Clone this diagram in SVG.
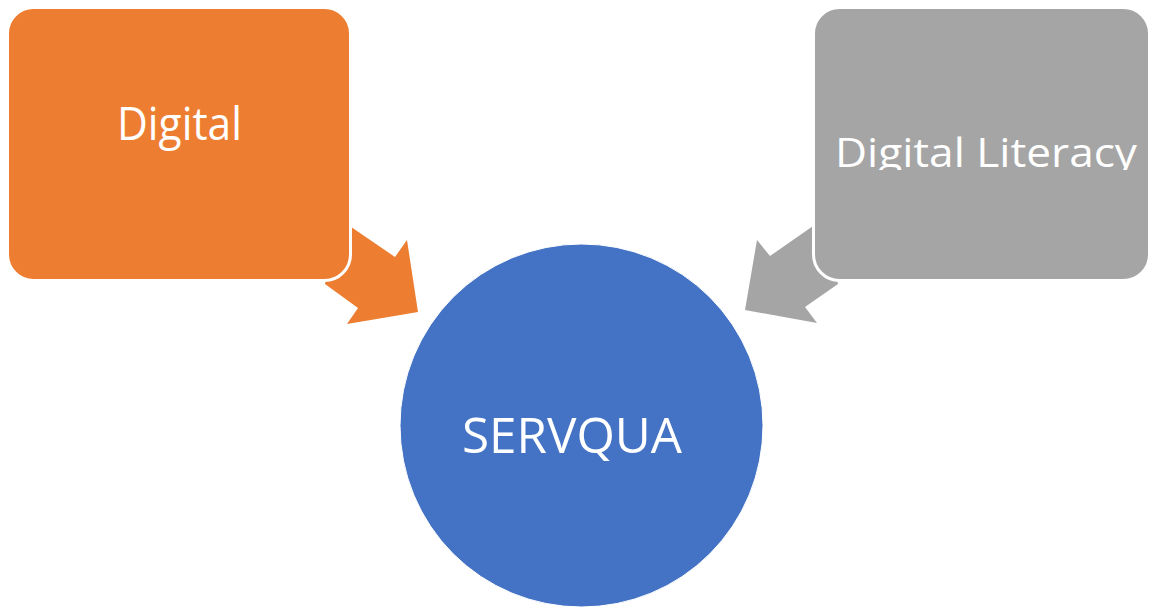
<svg xmlns="http://www.w3.org/2000/svg" width="1150" height="607" viewBox="0 0 1150 607">
  <defs>
    <style>
      .box { stroke: #ffffff; stroke-width: 3; }
      .label { font-family: "Open Sans", "Liberation Sans", sans-serif; fill: #ffffff; text-anchor: middle; }
    </style>
    <clipPath id="clipLit">
      <rect x="814" y="0" width="336" height="170"/>
    </clipPath>
  </defs>
  <rect width="1150" height="607" fill="#ffffff"/>
  <g id="connectors">
    <polygon points="338,218 395,257 407,240 418,312 347,324 358,308 325,284" fill="#ED7D31"/>
    <polygon points="826,217 770,256 757,240 745,310 817,323 805,307 838,284" fill="#A5A5A5"/>
  </g>
  <g id="node-digital">
    <rect class="box" x="7.5" y="7.5" width="343" height="273" rx="26" ry="26" fill="#ED7D31"/>
    <text class="label" x="179.5" y="140" font-size="45" textLength="125" lengthAdjust="spacingAndGlyphs">Digital</text>
  </g>
  <g id="node-literacy">
    <rect class="box" x="813.5" y="7.5" width="336" height="273" rx="26" ry="26" fill="#A5A5A5"/>
    <text class="label" x="986" y="167" font-size="41" textLength="302" lengthAdjust="spacingAndGlyphs" clip-path="url(#clipLit)">Digital Literacy</text>
  </g>
  <g id="node-servqua">
    <circle cx="581.5" cy="425.5" r="181.5" fill="#4472C4" stroke="#ffffff" stroke-width="1"/>
    <text class="label" x="572" y="453" font-size="50" textLength="220" lengthAdjust="spacingAndGlyphs">SERVQUA</text>
  </g>
</svg>
